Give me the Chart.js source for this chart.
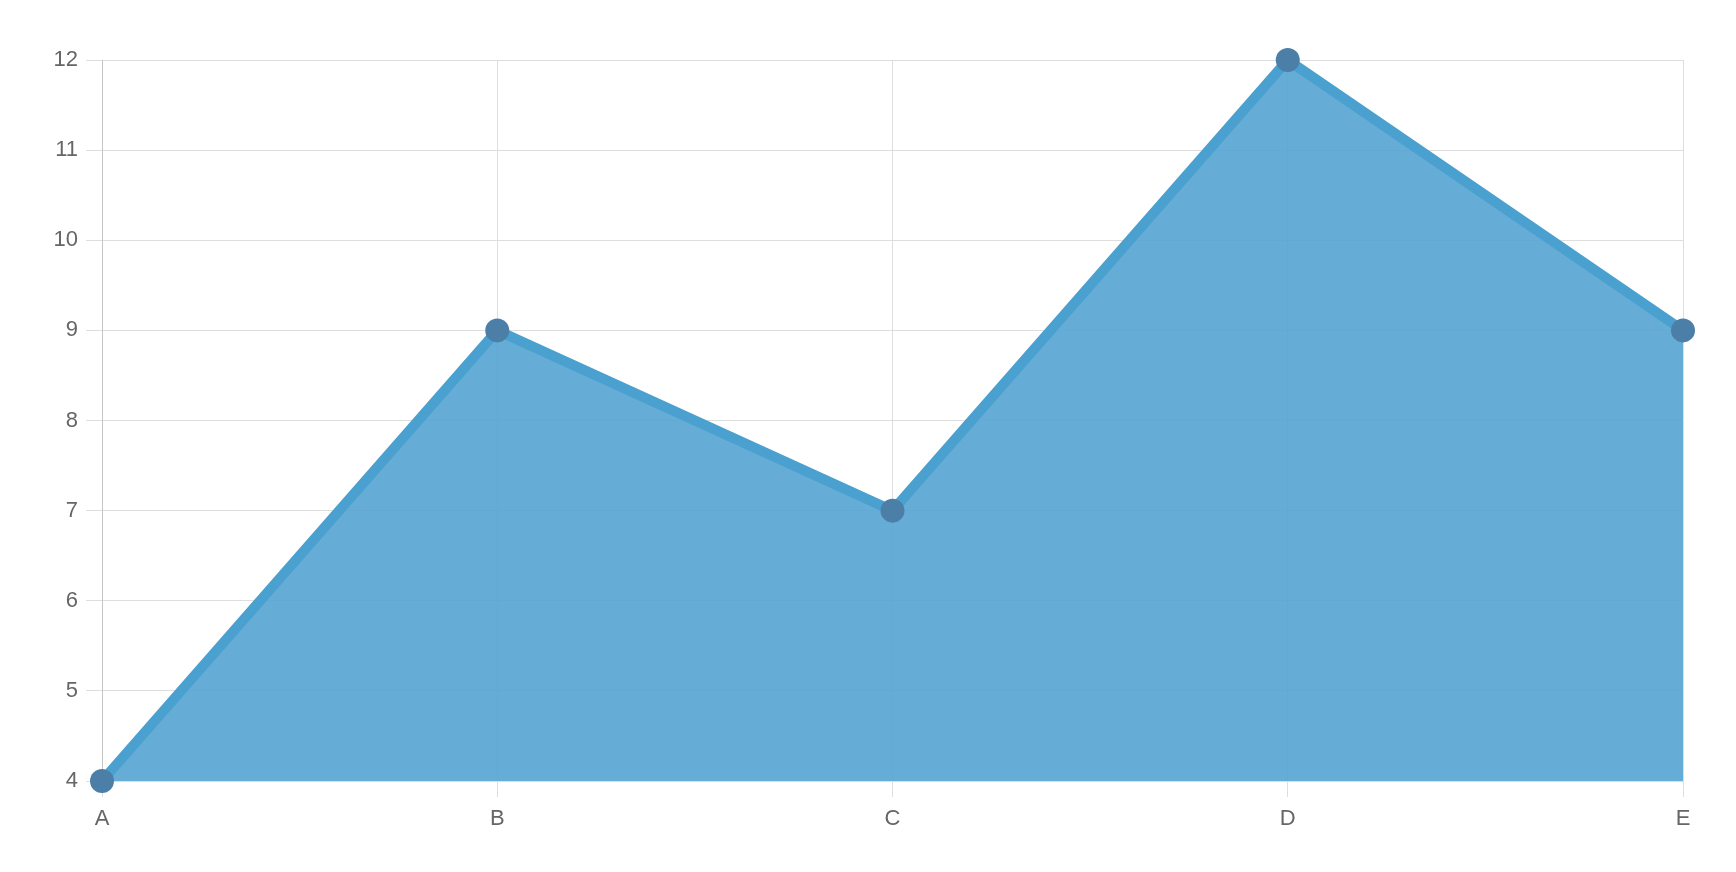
<!DOCTYPE html>
<html>
<head>
<meta charset="utf-8">
<script src="https://cdn.jsdelivr.net/npm/chart.js@4"></script>
<style>
  html, body { margin: 0; padding: 0; background: #fff; }
  #wrap { width: 1736px; height: 872px; }
</style>
</head>
<body>
<div id="wrap"><canvas id="chart" width="1736" height="872"></canvas></div>
<script>
// chart data
const labels = ["A", "B", "C", "D", "E"];
const values = [4, 9, 7, 12, 9];
const yMin = 4;
const yMax = 12;

const GRID = "#dedede";
const TEXT = "#666";

new Chart(document.getElementById("chart").getContext("2d"), {
  type: "line",
  data: {
    labels: labels,
    datasets: [{
      data: values,
      fill: "origin",
      clip: false,
      backgroundColor: "rgba(84,163,210,0.9)",
      borderColor: "#4aa0cf",
      borderWidth: 10,
      tension: 0,
      pointRadius: 12,
      pointBorderWidth: 0,
      pointBackgroundColor: "#4c7fa8",
    }]
  },
  options: {
    responsive: false,
    animation: false,
    layout: { padding: { left: 0, top: 60, right: 53, bottom: 41 } },
    plugins: {
      legend: { display: false },
      tooltip: { enabled: false }
    },
    scales: {
      x: {
        offset: false,
        grid: { color: GRID, tickLength: 16, lineWidth: 1 },
        border: { color: GRID },
        ticks: { color: TEXT, padding: 9, font: { family: "'Liberation Sans', Arial, sans-serif", size: 22 } },
        afterFit: (s) => { s.height = 50; }
      },
      y: {
        min: yMin,
        max: yMax,
        grid: { color: GRID, tickLength: 16, lineWidth: 1 },
        border: { color: "#c4c4c4" },
        ticks: { stepSize: 1, color: TEXT, padding: 8, font: { family: "'Liberation Sans', Arial, sans-serif", size: 22 } },
        afterFit: (s) => { s.width = 102; }
      }
    }
  }
});
</script>
</body>
</html>
